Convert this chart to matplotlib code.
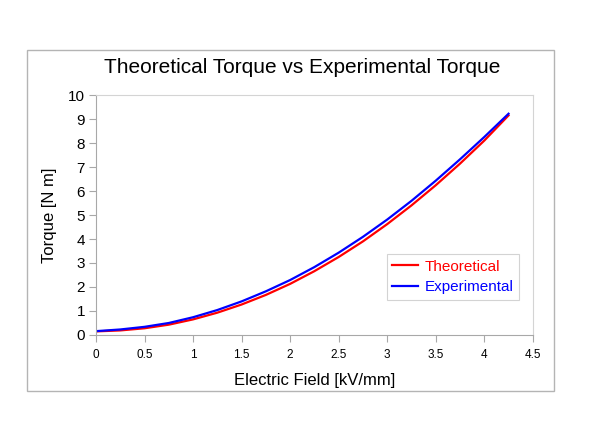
import matplotlib.pyplot as plt
from matplotlib.patches import Rectangle

# Electric field [kV/mm]
field = [0.0, 0.25, 0.5, 0.75, 1.0, 1.25, 1.5, 1.75, 2.0, 2.25,
         2.5, 2.75, 3.0, 3.25, 3.5, 3.75, 4.0, 4.25]
# Torque [N m]
theoretical = [0.15, 0.19, 0.28, 0.43, 0.65, 0.93, 1.27, 1.67, 2.13, 2.66,
               3.25, 3.90, 4.62, 5.40, 6.24, 7.14, 8.10, 9.15]
experimental = [0.16, 0.23, 0.34, 0.50, 0.74, 1.04, 1.40, 1.82, 2.29, 2.83,
                3.43, 4.09, 4.81, 5.59, 6.43, 7.32, 8.25, 9.22]

plt.rcParams['font.family'] = ['Liberation Sans', 'DejaVu Sans']

fig = plt.figure(figsize=(6, 4.21), dpi=100)
fig.patch.set_facecolor('white')

# outer chart border
fig.patches.append(Rectangle((0.045, 0.0713), 0.878, 0.8097, transform=fig.transFigure,
                             fill=False, edgecolor='#b4b4b4', linewidth=1.0))

ax = fig.add_axes([0.16, 0.2043, 0.728, 0.570])

ax.plot(field, theoretical, color='#ff0000', linewidth=1.6, label='Theoretical')
ax.plot(field, experimental, color='#0000ff', linewidth=1.6, label='Experimental')

ax.set_xlim(0, 4.5)
ax.set_ylim(0, 10)
ax.set_xticks([0, 0.5, 1, 1.5, 2, 2.5, 3, 3.5, 4, 4.5])
ax.set_xticklabels(['0', '0.5', '1', '1.5', '2', '2.5', '3', '3.5', '4', '4.5'])
ax.set_yticks(range(0, 11))

for side in ['top', 'right']:
    ax.spines[side].set_color('#d4d4d4')
for side in ['left', 'bottom']:
    ax.spines[side].set_color('#a8a8a8')
ax.tick_params(axis='both', colors='#a8a8a8', labelcolor='black', length=5, width=0.8)
ax.tick_params(axis='y', labelsize=11, pad=3)
ax.tick_params(axis='x', labelsize=8.5, pad=5)

ax.set_title('Theoretical Torque vs Experimental Torque', fontsize=15, pad=16, x=0.472)
ax.set_xlabel('Electric Field [kV/mm]', fontsize=12, labelpad=9)
ax.set_ylabel('Torque [N m]', fontsize=12, labelpad=8)

leg = ax.legend(loc='lower right', bbox_to_anchor=(0.985, 0.115), fontsize=11,
                frameon=True, fancybox=False, handlelength=1.7, handletextpad=0.4,
                borderpad=0.35, labelspacing=0.45)
leg.get_frame().set_edgecolor('#c8c8c8')
leg.get_frame().set_linewidth(0.8)
for txt, col in zip(leg.get_texts(), ['#ff0000', '#0000ff']):
    txt.set_color(col)

plt.savefig('out.png', dpi=100, facecolor='white')
plt.close()
